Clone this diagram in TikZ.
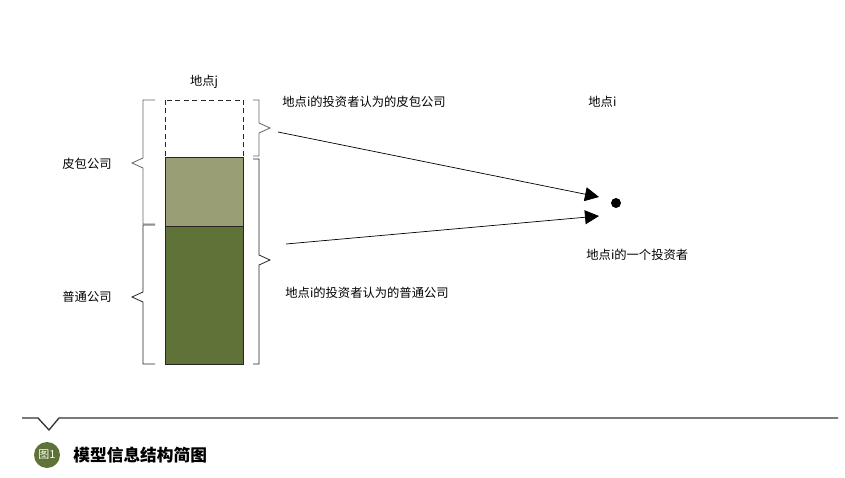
\documentclass[tikz,border=0pt]{standalone}
\usepackage{fontspec}
\setmainfont{Noto Sans CJK SC}
\usetikzlibrary{arrows.meta}
\definecolor{shellgreen}{HTML}{9A9E74}
\definecolor{firmgreen}{HTML}{5F7237}
\tikzset{every picture/.style = {x=1pt, y=-1pt, line width=0.8pt}}
\tikzset{brace/.style = {draw=black!85, line join=miter}}
\tikzset{bar/.style = {draw=black!85}}
\tikzset{txt/.style = {font=\fontsize{12.3}{14}\selectfont, inner sep=0}}
\tikzset{link/.style = {-{Triangle[length=14pt, width=14pt]}, line width=0.7pt}}

\begin{document}
\begin{tikzpicture}
  \useasboundingbox (0, 0) rectangle (845, 478);
  % column for place j
  \draw[bar, dash pattern=on 5pt off 3.5pt] (165, 100) rectangle (243, 157);
  \filldraw[bar, fill=shellgreen] (165, 157) rectangle (243, 226);
  \filldraw[bar, fill=firmgreen] (165, 226) rectangle (243, 364);
  \node[txt] (placej) at (204, 82) {地点j};
  % left braces
  \draw[brace, draw=black!60] (155, 100) -- (143, 100) -- (143, 158) -- (132, 163)
    -- (143, 168) -- (143, 224) -- (155, 224);
  \draw[brace] (155, 225) -- (143, 225) -- (143, 292) -- (132, 297)
    -- (143, 302) -- (143, 364) -- (155, 364);
  \node[txt] (shell) at (87, 164) {皮包公司};
  \node[txt] (normal) at (87, 297) {普通公司};
  % right braces
  \draw[brace, draw=black!60] (253, 100) -- (259, 100) -- (259, 123) -- (270, 128)
    -- (259, 133) -- (259, 156) -- (253, 156);
  \draw[brace] (253, 159) -- (259, 159) -- (259, 255) -- (270, 260)
    -- (259, 265) -- (259, 364) -- (253, 364);
  \node[txt, anchor=west] (shellview) at (282, 102) {地点i的投资者认为的皮包公司};
  \node[txt, anchor=west] (normalview) at (285, 293) {地点i的投资者认为的普通公司};
  % investor at place i
  \node[txt, anchor=west] (placei) at (588, 102) {地点i};
  \node[fill, circle, inner sep=0, minimum size=10pt] (inv) at (616, 203) {};
  \node[txt, anchor=west] (invlabel) at (586, 255) {地点i的一个投资者};
  \coordinate (fromShell) at (278, 132);
  \coordinate (toShell) at (599, 197);
  \coordinate (fromNormal) at (286, 244);
  \coordinate (toNormal) at (599, 216);
  \draw[link] (fromShell) -- (toShell);
  \draw[link] (fromNormal) -- (toNormal);
  % caption
  \draw[black!80, line width=1.3pt] (22, 418) -- (38, 418) -- (49, 430) -- (59, 418) -- (838, 418);
  \node[circle, fill=firmgreen, minimum size=26pt, inner sep=0, text=white,
    font=\fontsize{11}{13}\selectfont] (fig) at (47, 455) {图1};
  \node[anchor=west, inner sep=0, font=\fontsize{16.7}{19}\selectfont\bfseries] (title)
    at (73, 455) {模型信息结构简图};
\end{tikzpicture}
\end{document}
